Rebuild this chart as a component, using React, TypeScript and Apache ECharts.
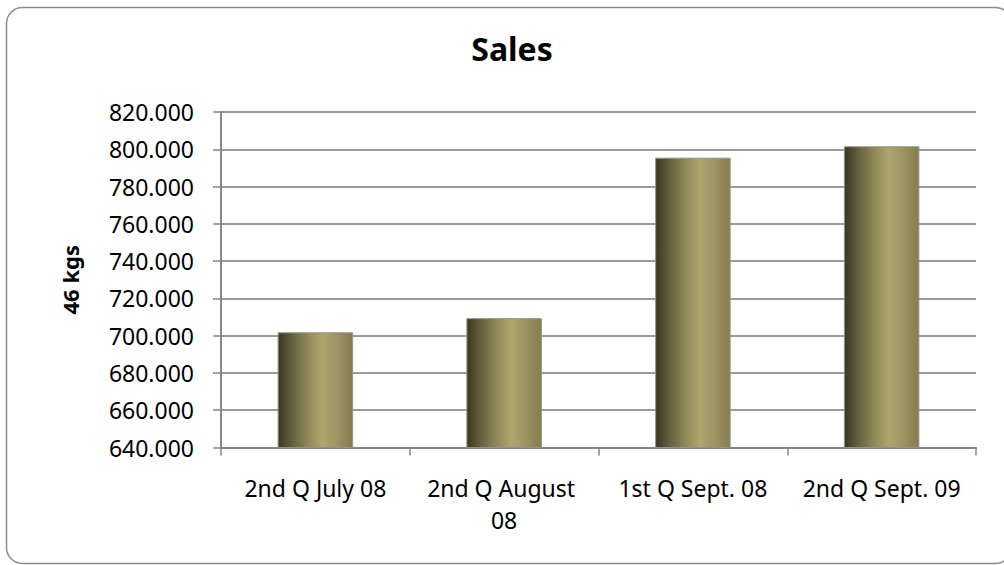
import React, { useEffect, useRef } from "react";
import * as echarts from "echarts";

const categories = ["2nd Q July 08", "2nd Q August 08", "1st Q Sept. 08", "2nd Q Sept. 09"];
const salesValues = [701800, 709400, 795500, 801600];
const yMin = 640000;
const yMax = 820000;
const yStep = 20000;
const chartTitle = "Sales";
const yAxisName = "46 kgs";

const FONT = "'Noto Sans', 'Open Sans', sans-serif";

function formatThousands(v: number): string {
  return String(Math.round(v)).replace(/\B(?=(\d{3})+(?!\d))/g, ".");
}

export default function App() {
  const ref = useRef<HTMLDivElement>(null);
  useEffect(() => {
    if (!ref.current) return;
    const chart = echarts.init(ref.current, undefined, { renderer: "svg" });
    chart.setOption({
      animation: false,
      backgroundColor: "#ffffff",
      title: {
        text: chartTitle,
        left: 507,
        textAlign: "center",
        top: 27,
        textStyle: { fontFamily: FONT, fontSize: 32, fontWeight: "bold", color: "#000" },
      },
      graphic: [
        {
          type: "rect",
          shape: { x: 6.5, y: 7.5, width: 1005, height: 556, r: 16 },
          style: { fill: "none", stroke: "#8c8c8c", lineWidth: 1.5 },
          silent: true,
          z: -1,
        },
      ],
      grid: { left: 221, right: 28, top: 112, bottom: 117.5, containLabel: false },
      xAxis: {
        type: "category",
        data: categories,
        axisLine: { show: true, lineStyle: { color: "#868686", width: 2 } },
        axisTick: { show: true, length: 8, alignWithLabel: false, lineStyle: { color: "#868686", width: 1.5 } },
        axisLabel: {
          fontFamily: FONT,
          fontSize: 23,
          color: "#000",
          margin: 24,
          width: 170,
          overflow: "break",
          lineHeight: 32,
          interval: 0,
        },
      },
      yAxis: {
        type: "value",
        min: yMin,
        max: yMax,
        interval: yStep,
        name: yAxisName,
        nameLocation: "middle",
        nameRotate: 90,
        nameGap: 140,
        nameTextStyle: { fontFamily: FONT, fontSize: 22, fontWeight: "bold", color: "#000" },
        axisLine: { show: true, lineStyle: { color: "#868686", width: 2 } },
        axisTick: { show: true, length: 8, lineStyle: { color: "#868686", width: 1.5 } },
        axisLabel: {
          fontFamily: FONT,
          fontSize: 23,
          color: "#000",
          margin: 27,
          formatter: (v: number) => formatThousands(v),
        },
        splitLine: { show: true, lineStyle: { color: "#9a9a9a", width: 1.8 } },
      },
      series: [
        {
          type: "bar",
          data: salesValues,
          barWidth: "40%",
          itemStyle: {
            borderColor: "#959380",
            borderWidth: 1,
            color: new echarts.graphic.LinearGradient(0, 0, 1, 0, [
              { offset: 0, color: "#393723" },
              { offset: 0.2, color: "#67623f" },
              { offset: 0.4, color: "#908859" },
              { offset: 0.6, color: "#b0a56e" },
              { offset: 0.8, color: "#9c9262" },
              { offset: 1, color: "#847c50" },
            ]),
          },
        },
      ],
    });
    return () => chart.dispose();
  }, []);
  return (
    <div
      ref={ref}
      style={{ position: "fixed", left: 0, top: 0, width: 1004, height: 565, background: "#fff" }}
    />
  );
}
